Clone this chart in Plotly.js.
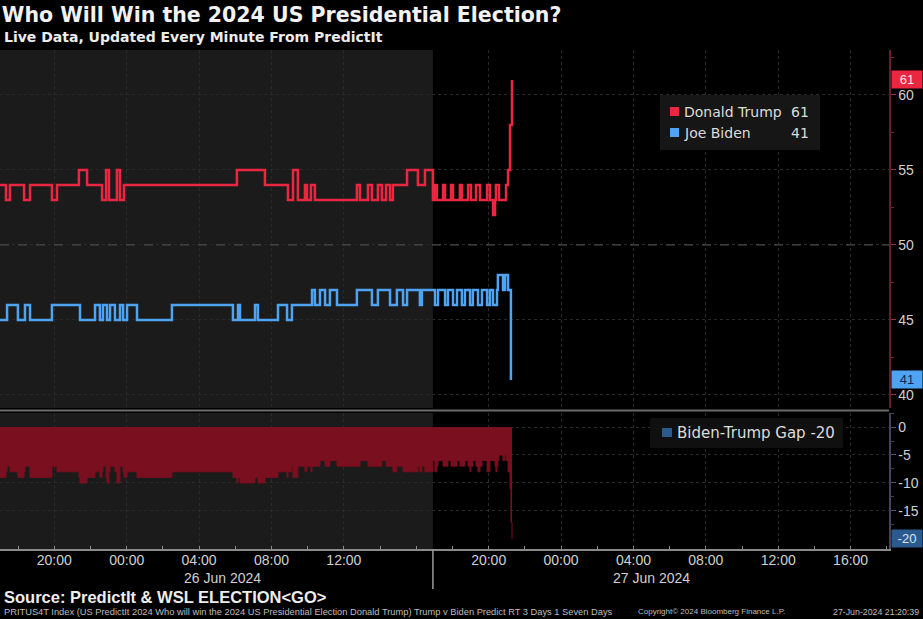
<!DOCTYPE html>
<html>
<head>
<meta charset="utf-8">
<script src="https://cdn.plot.ly/plotly-3.0.1.min.js"></script>
<style>html,body{margin:0;padding:0;background:#000;}#chart{width:923px;height:619px;}</style>
</head>
<body>
<div id="chart"></div>
<script>
// ---- data: hours since 25 Jun 17:00 (chart time), PredictIt prices in cents ----
const trumpHours = [0,0.33,0.55,1.33,1.66,2.87,3.15,4.36,4.81,5.64,5.86,6.02,6.46,6.63,6.85,13.09,14.64,15.91,16.19,16.46,16.85,16.96,17.18,17.40,19.72,19.89,20.33,20.55,20.88,21.10,21.33,21.55,21.71,22.49,23.09,23.48,23.92,24.03,24.14,24.48,24.59,24.92,25.03,25.41,25.52,25.86,26.02,26.30,26.52,26.91,27.07,27.24,27.35,27.40,27.57,27.96,28.07,28.18,28.29];
const trumpPrice = [54,53,54,53,54,53,54,55,54,53,55,53,55,53,54,55,54,53,55,53,54,53,54,53,54,53,54,53,54,53,54,53,54,55,54,55,53,54,53,54,53,54,53,54,53,54,53,54,53,54,53,52,53,54,53,54,55,58,61];

const bidenHours = [0,0.39,0.99,1.38,1.66,2.87,4.42,5.25,5.52,5.69,5.91,6.08,6.35,6.63,6.80,7.02,7.57,9.50,12.87,13.15,13.26,14.09,14.25,15.36,15.86,16.13,17.24,17.40,17.68,17.96,18.23,18.62,19.72,20.55,20.88,21.55,21.93,22.27,22.49,23.20,23.31,24.03,24.20,24.59,24.75,25.03,25.25,25.52,25.69,25.97,26.13,26.41,26.63,26.91,27.07,27.24,27.46,27.51,27.79,27.90,28.07,28.23];
const bidenPrice = [45,46,45,46,45,46,45,46,45,46,45,46,45,46,45,46,45,46,45,46,45,46,45,46,45,46,47,46,47,46,47,46,47,46,47,46,47,46,47,46,47,46,47,46,47,46,47,46,47,46,47,46,47,46,47,46,47,48,47,48,47,41];

const tickHours = [3,7,11,15,19,27,31,35,39,43,47];
const tickLabels = ['20:00','00:00','04:00','08:00','12:00','20:00','00:00','04:00','08:00','12:00','16:00'];
const dateLabels = ['26 Jun 2024','27 Jun 2024'];
const dateHours = [12.27, 36.0];
const dividerHour = 23.92;
const upperTicks = [40,45,50,55,60];
const lowerTicks = [0,-5,-10,-15];

// ---- derived gap series (Biden - Trump) ----
function stepAt(xs, ys, t){ let v = ys[0]; for(let i=0;i<xs.length;i++){ if(xs[i] <= t) v = ys[i]; } return v; }
const gapHours = Array.from(new Set(trumpHours.concat(bidenHours))).sort((a,b)=>a-b);
const gapValue = gapHours.map(t => stepAt(bidenHours,bidenPrice,t) - stepAt(trumpHours,trumpPrice,t));

const lastTrump = trumpPrice[trumpPrice.length-1];
const lastBiden = bidenPrice[bidenPrice.length-1];
const lastGap = gapValue[gapValue.length-1];

const RED = '#ec2640', BLUE = '#4ea4f2', GAPRED = '#7a0f1f', GAPBLUE = '#2b5a90';
const AX = 'Liberation Sans, Arial, sans-serif';
const DJ = 'DejaVu Sans, Verdana, sans-serif';

// pixel helpers for paper coordinates (plot area: x 0..889, y 50..549)
const px = x => x/889;
const py = y => (549 - y)/499;

const traces = [
  {x: trumpHours, y: trumpPrice, type:'scatter', mode:'lines', line:{shape:'hv', color:RED, width:2.5}, xaxis:'x', yaxis:'y', hoverinfo:'skip'},
  {x: bidenHours, y: bidenPrice, type:'scatter', mode:'lines', line:{shape:'hv', color:BLUE, width:2.5}, xaxis:'x', yaxis:'y', hoverinfo:'skip'},
  {x: gapHours, y: gapValue, type:'scatter', mode:'lines', fill:'tozeroy', fillcolor:GAPRED, line:{shape:'hv', color:GAPRED, width:1}, xaxis:'x2', yaxis:'y2', hoverinfo:'skip'}
];

const gridCol = '#2a2a2a';
const layout = {
  width:923, height:619,
  margin:{l:0, r:34, t:50, b:70},
  paper_bgcolor:'#000', plot_bgcolor:'#000',
  showlegend:false,
  title:{text:'<b>Who Will Win the 2024 US Presidential Election?</b>', x:0.002, xref:'paper', xanchor:'left', y:1-15/619, yref:'container', yanchor:'middle', font:{family:DJ, size:20.5, color:'#f2f2f2'}},
  xaxis:{domain:[0,1], range:[0,49.12], anchor:'y', tickmode:'array', tickvals:tickHours, showticklabels:false, ticks:'', showgrid:true, gridcolor:gridCol, griddash:'dot', zeroline:false, showline:false, fixedrange:true},
  yaxis:{domain:[0.2826,1], range:[39.13,63], anchor:'x', side:'right', tickmode:'array', tickvals:upperTicks, ticktext:upperTicks.map(String), ticks:'outside', ticklen:5, tickcolor:'#9a3040', showline:true, linecolor:'#6b1c2c', linewidth:1.5, tickfont:{family:AX, size:14, color:'#d0d0d0'}, showgrid:true, gridcolor:gridCol, griddash:'dot', zeroline:false,
         minor:{dtick:2.5, tick0:0, ticks:'outside', ticklen:3, tickcolor:'#7a2030', showgrid:false}},
  xaxis2:{domain:[0,1], range:[0,49.12], anchor:'y2', tickmode:'array', tickvals:tickHours, ticktext:tickLabels, ticks:'', ticklabelstandoff:-2, tickfont:{family:AX, size:14, color:'#d0d0d0'}, showline:true, linecolor:'#8a8a8a', linewidth:1.5, showgrid:true, gridcolor:gridCol, griddash:'dot', zeroline:false,
          minor:{dtick:2, tick0:1, ticks:'inside', ticklen:3, tickcolor:'#8a8a8a', showgrid:false}},
  yaxis2:{domain:[0,0.2725], range:[-21.8,2.5], anchor:'x2', side:'right', tickmode:'array', tickvals:lowerTicks, ticktext:lowerTicks.map(String), ticks:'outside', ticklen:5, tickcolor:'#5a4d70', showline:true, linecolor:'#4b3f5e', linewidth:1.5, tickfont:{family:AX, size:14, color:'#d0d0d0'}, showgrid:true, gridcolor:gridCol, griddash:'dot', zeroline:false,
          minor:{dtick:2.5, tick0:0, ticks:'outside', ticklen:3, tickcolor:'#4b3f5e', showgrid:false}},
  shapes:[
    {type:'rect', layer:'below', xref:'x', yref:'paper', x0:-1, x1:dividerHour, y0:0.2826, y1:1, fillcolor:'#1b1b1b', line:{width:0}},
    {type:'rect', layer:'below', xref:'x2', yref:'paper', x0:-1, x1:dividerHour, y0:0, y1:0.2725, fillcolor:'#1b1b1b', line:{width:0}},
    {type:'line', xref:'paper', yref:'y', x0:0, x1:1, y0:50, y1:50, line:{color:'#4a4a4a', width:1.2, dash:'dash'}},
    {type:'line', xref:'paper', yref:'paper', x0:0, x1:1, y0:py(410.5), y1:py(410.5), line:{color:'#6a6a6a', width:2}},
    {type:'line', xref:'x2', yref:'paper', x0:dividerHour, x1:dividerHour, y0:py(589), y1:0, line:{color:'#9a9a9a', width:1.5}},
    {type:'rect', xref:'paper', yref:'paper', x0:px(660), x1:px(820), y0:py(150), y1:py(95), fillcolor:'#161616', line:{width:0}},
    {type:'rect', xref:'paper', yref:'paper', x0:px(670), x1:px(679), y0:py(116), y1:py(107), fillcolor:RED, line:{width:0}},
    {type:'rect', xref:'paper', yref:'paper', x0:px(670), x1:px(679), y0:py(137), y1:py(128), fillcolor:BLUE, line:{width:0}},
    {type:'rect', xref:'paper', yref:'paper', x0:px(650), x1:px(843), y0:py(448), y1:py(418), fillcolor:'#101010', line:{width:0}},
    {type:'rect', xref:'paper', yref:'paper', x0:px(662), x1:px(672), y0:py(437), y1:py(428), fillcolor:GAPBLUE, line:{width:0}}
  ],
  annotations:[
    {text:'<b>Live Data, Updated Every Minute From PredictIt</b>', xref:'paper', yref:'paper', x:0.002, y:py(37), xanchor:'left', yanchor:'middle', showarrow:false, font:{family:DJ, size:14, color:'#ececec'}},
    {text:'Donald Trump', xref:'paper', yref:'paper', x:px(682), y:py(112), xanchor:'left', yanchor:'middle', showarrow:false, font:{family:DJ, size:14, color:'#dcdcdc'}},
    {text:String(lastTrump), xref:'paper', yref:'paper', x:px(811), y:py(112), xanchor:'right', yanchor:'middle', showarrow:false, font:{family:DJ, size:14, color:'#dcdcdc'}},
    {text:'Joe Biden', xref:'paper', yref:'paper', x:px(682), y:py(133), xanchor:'left', yanchor:'middle', showarrow:false, font:{family:DJ, size:14, color:'#dcdcdc'}},
    {text:String(lastBiden), xref:'paper', yref:'paper', x:px(811), y:py(133), xanchor:'right', yanchor:'middle', showarrow:false, font:{family:DJ, size:14, color:'#dcdcdc'}},
    {text:'Biden-Trump Gap ' + String(lastGap), xref:'paper', yref:'paper', x:px(675), y:py(433), xanchor:'left', yanchor:'middle', showarrow:false, font:{family:DJ, size:15, color:'#dcdcdc'}},
    {text:String(lastTrump), xref:'paper', yref:'y', x:1, xshift:2, y:lastTrump, xanchor:'left', yanchor:'middle', showarrow:false, bgcolor:RED, width:28, borderpad:1, font:{family:AX, size:13, color:'#ffe8ea'}},
    {text:String(lastBiden), xref:'paper', yref:'y', x:1, xshift:2, y:lastBiden, xanchor:'left', yanchor:'middle', showarrow:false, bgcolor:BLUE, width:28, borderpad:1, font:{family:AX, size:13, color:'#0b2a55'}},
    {text:String(lastGap), xref:'paper', yref:'y2', x:1, xshift:2, y:lastGap, xanchor:'left', yanchor:'middle', showarrow:false, bgcolor:GAPBLUE, width:28, borderpad:1, font:{family:AX, size:13, color:'#d8e6f7'}},
    {text:dateLabels[0], xref:'x2', yref:'paper', x:dateHours[0], y:py(578), xanchor:'center', yanchor:'middle', showarrow:false, font:{family:AX, size:14, color:'#d0d0d0'}},
    {text:dateLabels[1], xref:'x2', yref:'paper', x:dateHours[1], y:py(578), xanchor:'center', yanchor:'middle', showarrow:false, font:{family:AX, size:14, color:'#d0d0d0'}},
    {text:'<b>Source: PredictIt &amp; WSL ELECTION&lt;GO&gt;</b>', xref:'paper', yref:'paper', x:0.002, y:py(596.5), xanchor:'left', yanchor:'middle', showarrow:false, font:{family:AX, size:16.5, color:'#ededed'}},
    {text:'PRITUS4T Index (US PredictIt 2024 Who will win the 2024 US Presidential Election Donald Trump) Trump v Biden Predict RT 3 Days 1 Seven Days', xref:'paper', yref:'paper', x:0.002, y:py(611.5), xanchor:'left', yanchor:'middle', showarrow:false, font:{family:AX, size:9.3, color:'#bdbdbd'}},
    {text:'Copyright\u00a9 2024 Bloomberg Finance L.P.', xref:'paper', yref:'paper', x:px(636), y:py(611.5), xanchor:'left', yanchor:'middle', showarrow:false, font:{family:AX, size:8, color:'#bdbdbd'}},
    {text:'27-Jun-2024 21:20:39', xref:'paper', yref:'paper', x:px(921), y:py(611.5), xanchor:'right', yanchor:'middle', showarrow:false, font:{family:AX, size:8.8, color:'#bdbdbd'}}
  ]
};

Plotly.newPlot('chart', traces, layout, {displayModeBar:false, staticPlot:true});
</script>
</body>
</html>
